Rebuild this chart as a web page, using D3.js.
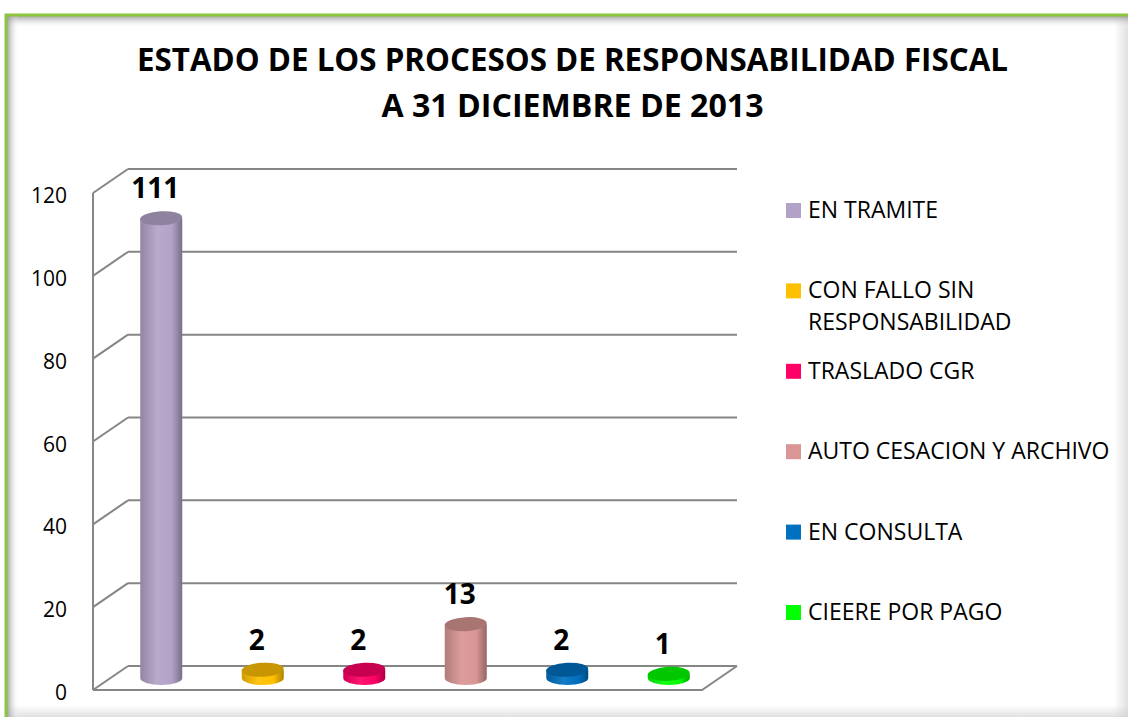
<!DOCTYPE html>
<html>
<head>
<meta charset="utf-8">
<script src="https://cdn.jsdelivr.net/npm/d3@7/dist/d3.min.js"></script>
<style>
  html, body { margin: 0; padding: 0; background: #fff; }
  svg { display: block; }
</style>
</head>
<body>
<svg id="chart" width="1128" height="717"></svg>
<script>
const titleLines = ["ESTADO DE LOS PROCESOS DE RESPONSABILIDAD FISCAL", "A 31 DICIEMBRE DE 2013"];
const categories = ["EN TRAMITE", "CON FALLO SIN RESPONSABILIDAD", "TRASLADO CGR", "AUTO CESACION Y ARCHIVO", "EN CONSULTA", "CIEERE POR PAGO"];
const legendLines = [["EN TRAMITE"], ["CON FALLO SIN", "RESPONSABILIDAD"], ["TRASLADO CGR"], ["AUTO CESACION Y ARCHIVO"], ["EN CONSULTA"], ["CIEERE POR PAGO"]];
const values = [111, 2, 2, 13, 2, 1];
const yTicks = [0, 20, 40, 60, 80, 100, 120];
const colors = ["#b3a2c7", "#ffc000", "#ff0066", "#d99694", "#0070c0", "#00ff00"];

const svg = d3.select("#chart");
const W = 1128, H = 717;
const defs = svg.append("defs");

// frame shadows
function lin(id, x1, y1, x2, y2, stops) {
  const g = defs.append("linearGradient").attr("id", id)
    .attr("x1", x1).attr("y1", y1).attr("x2", x2).attr("y2", y2);
  stops.forEach(s => g.append("stop").attr("offset", s[0]).attr("stop-color", s[1]).attr("stop-opacity", s[2]));
}
lin("shTop", 0, 0, 0, 1, [[0, "#888", 0.75], [1, "#fff", 0]]);
lin("shLeft", 0, 0, 1, 0, [[0, "#888", 0.75], [1, "#fff", 0]]);
lin("shRight", 0, 0, 1, 0, [[0, "#ccc", 0], [1, "#ccc", 0.6]]);
lin("shBot", 0, 0, 0, 1, [[0, "#ccc", 0], [1, "#ccc", 0.6]]);

svg.append("rect").attr("x", 0).attr("y", 0).attr("width", W).attr("height", H).attr("fill", "#fff");
svg.append("rect").attr("x", 1114).attr("y", 16).attr("width", 14).attr("height", H).attr("fill", "url(#shRight)");
svg.append("rect").attr("x", 7).attr("y", 705).attr("width", W).attr("height", 12).attr("fill", "url(#shBot)");
svg.append("rect").attr("x", 7).attr("y", 16).attr("width", W).attr("height", 12).attr("fill", "url(#shTop)");
svg.append("rect").attr("x", 7).attr("y", 16).attr("width", 12).attr("height", H).attr("fill", "url(#shLeft)");
svg.append("path").attr("d", `M6,${H} L6,15 L${W},15`).attr("fill", "none")
  .attr("stroke", "#8cc63f").attr("stroke-width", 3);

// title
const titleWidths = [871, 382];
titleLines.forEach((t, i) => {
  svg.append("text").attr("x", 572.5).attr("y", 71 + i * 46)
    .attr("text-anchor", "middle")
    .attr("font-family", "'Open Sans', sans-serif").attr("font-weight", 700)
    .attr("font-size", 32).attr("fill", "#000")
    .attr("textLength", titleWidths[i]).attr("lengthAdjust", "spacingAndGlyphs")
    .text(t);
});

// 3D geometry
const depthX = 35, depthY = -24;
const y = d3.scaleLinear().domain([0, 120]).range([690, 193]);
const x = d3.scaleBand().domain(categories).range([93, 702]).padding(0);
const grid = svg.append("g").attr("stroke", "#868686").attr("stroke-width", 2).attr("fill", "none");

// floor
grid.append("path")
  .attr("d", `M${x.range()[0]},${y(0)} L${x.range()[1]},${y(0)} L${x.range()[1] + depthX},${y(0) + depthY}`)
  .attr("fill", "#fff");
// left wall front edge
grid.append("line").attr("x1", 93).attr("x2", 93).attr("y1", y(120)).attr("y2", y(0));
yTicks.forEach(t => {
  grid.append("line").attr("x1", 93).attr("y1", y(t)).attr("x2", 93 + depthX).attr("y2", y(t) + depthY);
  grid.append("line").attr("x1", 93 + depthX).attr("y1", y(t) + depthY)
    .attr("x2", x.range()[1] + depthX).attr("y2", y(t) + depthY);
});

// tick labels
svg.append("g").selectAll("text").data(yTicks).join("text")
  .attr("x", 67).attr("y", d => y(d) + 2)
  .attr("text-anchor", "end").attr("dominant-baseline", "central")
  .attr("font-family", "'Open Sans', sans-serif").attr("font-size", 21).attr("fill", "#000")
  .text(d => d);

// cylinders
const barW = 42, ry = 7;
function shade(c, k) { return d3.interpolateRgb(c, "#000")(k); }
function light(c, k) { return d3.interpolateRgb(c, "#fff")(k); }
colors.forEach((c, i) => {
  const g = defs.append("linearGradient").attr("id", "cyl" + i).attr("x1", 0).attr("x2", 1).attr("y1", 0).attr("y2", 0);
  g.append("stop").attr("offset", 0).attr("stop-color", shade(c, 0.18));
  g.append("stop").attr("offset", 0.4).attr("stop-color", light(c, 0.08));
  g.append("stop").attr("offset", 0.75).attr("stop-color", c);
  g.append("stop").attr("offset", 1).attr("stop-color", shade(c, 0.32));
});
const bars = svg.append("g");
categories.forEach((cat, i) => {
  const cx = x(cat) + x.bandwidth() / 2 + depthX / 2;
  const yb = y(0) + depthY / 2;
  const yt = y(values[i]) + depthY / 2;
  const l = cx - barW / 2, r = cx + barW / 2;
  const g = bars.append("g");
  g.append("path")
    .attr("d", `M${l},${yt} L${l},${yb} A${barW / 2},${ry} 0 0 0 ${r},${yb} L${r},${yt} Z`)
    .attr("fill", `url(#cyl${i})`);
  g.append("ellipse").attr("cx", cx).attr("cy", yt).attr("rx", barW / 2).attr("ry", ry)
    .attr("transform", `rotate(-3 ${cx} ${yt})`)
    .attr("fill", shade(colors[i], i === 0 ? 0.2 : 0.22));
  svg.append("text").attr("x", cx - 6).attr("y", yt - ry - 13)
    .attr("text-anchor", "middle")
    .attr("font-family", "'Open Sans', sans-serif").attr("font-weight", 700)
    .attr("font-size", 28).attr("fill", "#000")
    .text(values[i]);
});

// legend
const leg = svg.append("g");
legendLines.forEach((lines, i) => {
  const by = 218 + i * 80.4;
  leg.append("rect").attr("x", 786).attr("y", by - 15).attr("width", 15).attr("height", 15).attr("fill", colors[i]);
  lines.forEach((ln, j) => {
    leg.append("text").attr("x", 808).attr("y", by + j * 32)
      .attr("font-family", "'Open Sans', sans-serif").attr("font-size", 23).attr("fill", "#000")
      .text(ln);
  });
});
</script>
</body>
</html>
